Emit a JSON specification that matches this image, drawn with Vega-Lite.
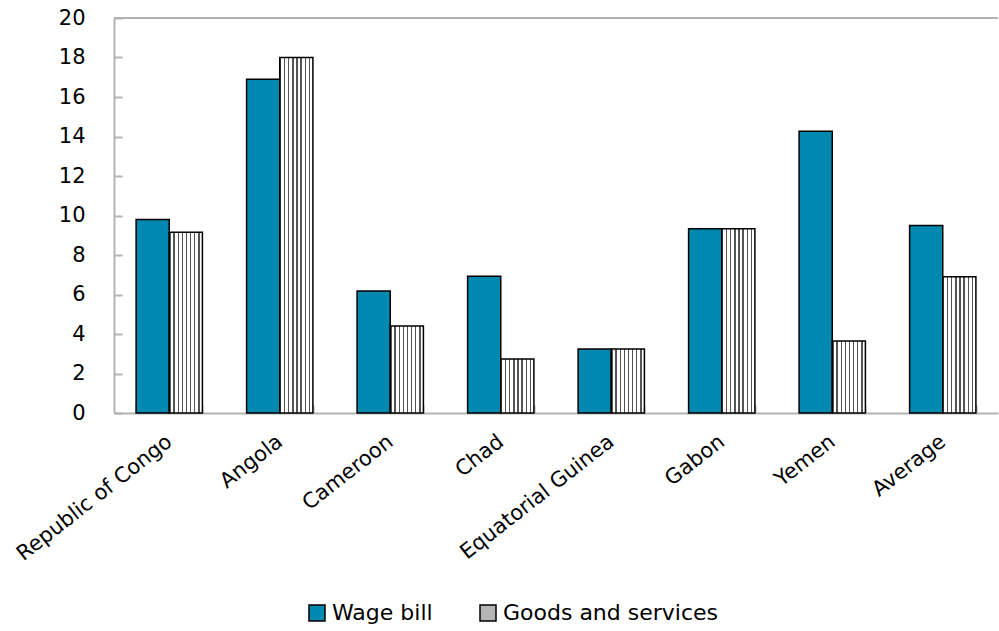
{
  "$schema": "https://vega.github.io/schema/vega-lite/v6.json",
  "autosize": "none",
  "width": 884,
  "height": 395,
  "padding": {"left": 114, "top": 18, "right": 1, "bottom": 218},
  "background": "white",
  "config": {
    "view": {"stroke": null},
    "font": "DejaVu Sans",
    "axis": {"labelFont": "DejaVu Sans", "labelColor": "#000000", "grid": false, "domainColor": "#b3b3b3", "domainWidth": 2, "tickColor": "#b3b3b3", "tickWidth": 2, "labelFontSize": 21, "tickSize": -8, "title": null, "labelOverlap": false, "labelLimit": 400},
    "axisY": {"labelPadding": 37},
    "axisX": {"labelAngle": -38, "labelPadding": 34, "labelAlign": "right", "labelBaseline": "middle", "tickBand": "extent"}
  },
  "datasets": {
    "bars": [
      {"country": "Republic of Congo", "series": "Wage bill", "value": 9.8},
      {"country": "Republic of Congo", "series": "Goods and services", "value": 9.15},
      {"country": "Angola", "series": "Wage bill", "value": 16.9},
      {"country": "Angola", "series": "Goods and services", "value": 18.0},
      {"country": "Cameroon", "series": "Wage bill", "value": 6.18},
      {"country": "Cameroon", "series": "Goods and services", "value": 4.4},
      {"country": "Chad", "series": "Wage bill", "value": 6.92},
      {"country": "Chad", "series": "Goods and services", "value": 2.73},
      {"country": "Equatorial Guinea", "series": "Wage bill", "value": 3.24},
      {"country": "Equatorial Guinea", "series": "Goods and services", "value": 3.24},
      {"country": "Gabon", "series": "Wage bill", "value": 9.33},
      {"country": "Gabon", "series": "Goods and services", "value": 9.33},
      {"country": "Yemen", "series": "Wage bill", "value": 14.27},
      {"country": "Yemen", "series": "Goods and services", "value": 3.65},
      {"country": "Average", "series": "Wage bill", "value": 9.5},
      {"country": "Average", "series": "Goods and services", "value": 6.9}
    ],
    "frame": [{"top": 20}]
  },
  "layer": [
    {
      "data": {"name": "bars"},
      "mark": {"type": "bar", "stroke": "#000000", "strokeWidth": 1.5},
      "encoding": {
        "x": {
          "field": "country", "type": "nominal", "sort": null,
          "scale": {"paddingInner": 0.4, "paddingOuter": 0.2}
        },
        "xOffset": {"field": "series", "type": "nominal", "sort": ["Wage bill", "Goods and services"]},
        "y": {
          "field": "value", "type": "quantitative",
          "scale": {"domain": [0, 20], "nice": false},
          "axis": {"values": [0, 2, 4, 6, 8, 10, 12, 14, 16, 18, 20]}
        },
        "fill": {
          "condition": {
            "test": "datum.series === 'Goods and services'",
            "value": {
              "gradient": "linear", "x1": 0, "y1": 0, "x2": 1, "y2": 0,
              "stops": [
                {"offset": 0.0, "color": "#555555"}, {"offset": 0.04, "color": "#555555"}, {"offset": 0.04, "color": "#ffffff"}, {"offset": 0.125, "color": "#ffffff"},
                {"offset": 0.125, "color": "#555555"}, {"offset": 0.165, "color": "#555555"}, {"offset": 0.165, "color": "#ffffff"}, {"offset": 0.25, "color": "#ffffff"},
                {"offset": 0.25, "color": "#555555"}, {"offset": 0.29, "color": "#555555"}, {"offset": 0.29, "color": "#ffffff"}, {"offset": 0.375, "color": "#ffffff"},
                {"offset": 0.375, "color": "#555555"}, {"offset": 0.415, "color": "#555555"}, {"offset": 0.415, "color": "#ffffff"}, {"offset": 0.5, "color": "#ffffff"},
                {"offset": 0.5, "color": "#555555"}, {"offset": 0.54, "color": "#555555"}, {"offset": 0.54, "color": "#ffffff"}, {"offset": 0.625, "color": "#ffffff"},
                {"offset": 0.625, "color": "#555555"}, {"offset": 0.665, "color": "#555555"}, {"offset": 0.665, "color": "#ffffff"}, {"offset": 0.75, "color": "#ffffff"},
                {"offset": 0.75, "color": "#555555"}, {"offset": 0.79, "color": "#555555"}, {"offset": 0.79, "color": "#ffffff"}, {"offset": 0.875, "color": "#ffffff"},
                {"offset": 0.875, "color": "#555555"}, {"offset": 0.915, "color": "#555555"}, {"offset": 0.915, "color": "#ffffff"}, {"offset": 1.0, "color": "#ffffff"}
              ]
            }
          },
          "field": "series", "type": "nominal", "title": null,
          "scale": {"domain": ["Wage bill", "Goods and services"], "range": ["#0089b0", "#b5b5b5"]},
          "legend": {
            "orient": "none", "legendX": 192, "legendY": 584, "direction": "horizontal",
            "symbolType": "square", "symbolSize": 256,
            "labelFontSize": 22, "labelFont": "DejaVu Sans", "labelColor": "#000000", "columnPadding": 44, "labelOffset": 4, "labelLimit": 400,
            "encode": {
              "symbols": {
                "stroke": {"value": "#000000"},
                "strokeWidth": {"value": 1.5}
              }
            }
          }
        }
      }
    },
    {
      "data": {"name": "frame"},
      "mark": {"type": "rule", "color": "#b3b3b3", "strokeWidth": 2},
      "encoding": {"y": {"field": "top", "type": "quantitative", "axis": {"values": [0, 2, 4, 6, 8, 10, 12, 14, 16, 18, 20]}}}
    }
  ]
}
